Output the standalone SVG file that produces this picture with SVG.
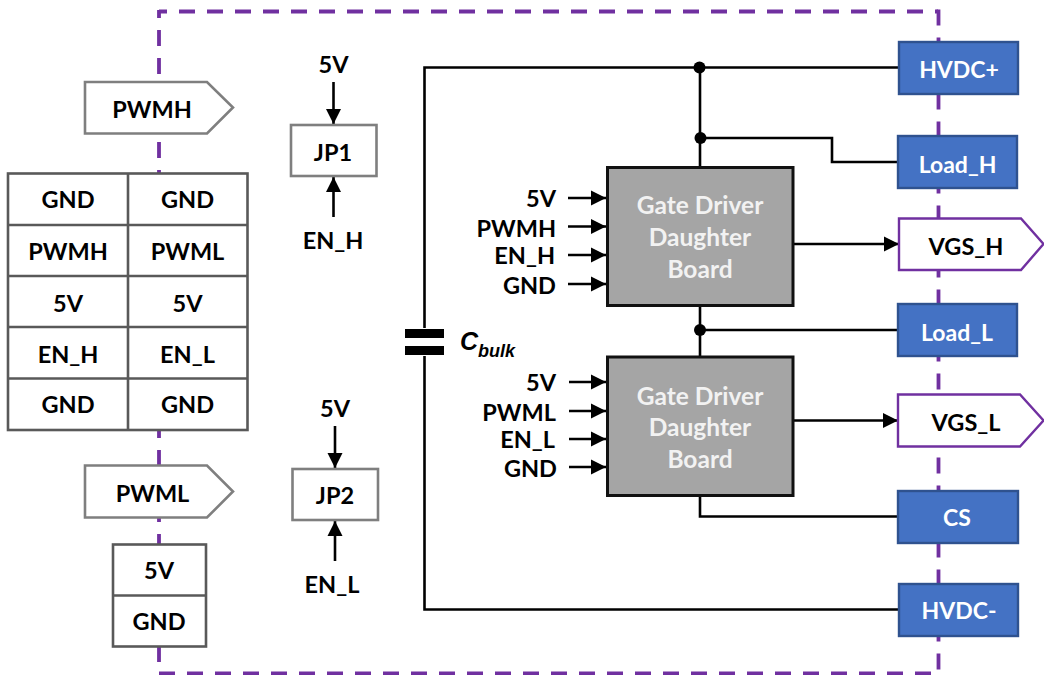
<svg xmlns="http://www.w3.org/2000/svg" width="1044" height="675" viewBox="0 0 1044 675">
<style>
text{font-family:Lato,"Open Sans","DejaVu Sans",sans-serif;font-weight:700;font-size:23.5px;fill:#000;text-anchor:middle;transform:translateY(1px)}
.e{text-anchor:end}
.w{fill:#fff;font-size:23px}
.g{fill:#f2f2f2;font-size:24.5px;transform:translateY(2px)}
.frame{fill:none;stroke:#7030a0;stroke-width:3.8;stroke-dasharray:16 12}
.wire{fill:none;stroke:#000;stroke-width:2.6}
.arrow{fill:none;stroke:#000;stroke-width:2.6;marker-end:url(#ah)}
.grey{fill:#fff;stroke:#7f7f7f;stroke-width:2.6}
.cell{fill:#fff;stroke:#595959;stroke-width:2.6}
.blue{fill:#4472c4;stroke:#2f528f;stroke-width:2.4}
.vgs{fill:#fff;stroke:#7030a0;stroke-width:2.4}
.gate{fill:#a5a5a5;stroke:#111;stroke-width:3}
.dot{fill:#000}
.cap{fill:#000}
.cb{font-family:"Liberation Sans",Arial,sans-serif;font-style:italic;text-anchor:start;transform:none}
</style>
<defs>
<marker id="ah" markerUnits="userSpaceOnUse" markerWidth="16" markerHeight="16" refX="15" refY="8" orient="auto"><path d="M0 0.5L15 8L0 15.5Z" fill="#000"/></marker>
</defs>
<g id="frame">
<path class="frame" d="M159 11.5H938" stroke-dashoffset="8"/>
<path class="frame" d="M159 10V674" stroke-dashoffset="8"/>
<path class="frame" d="M938.5 9.5V672" stroke-dasharray="16 12"/>
<path class="frame" d="M159 673.5H932"/>
</g>
<g id="connectors">
<path class="wire" d="M424.5 328V67.5H899"/>
<path class="wire" d="M424.5 356V609.5H899"/>
<path class="wire" d="M700 67.5V167"/>
<path class="wire" d="M700 138H832V162H898"/>
<path class="wire" d="M700 305V357"/>
<path class="wire" d="M700 330H898"/>
<path class="wire" d="M700 495V516.5H898"/>
<path class="arrow" d="M793 244H899"/>
<path class="arrow" d="M793 420.5H898"/>
<path class="arrow" d="M333.5 82V124"/>
<path class="arrow" d="M333.5 217V177"/>
<path class="arrow" d="M335 426V468"/>
<path class="arrow" d="M335 561V521"/>
<path class="arrow" d="M568 198H606"/>
<path class="arrow" d="M568 226.500H606"/>
<path class="arrow" d="M568 255H606"/>
<path class="arrow" d="M568 284H606"/>
<path class="arrow" d="M569 382H606"/>
<path class="arrow" d="M569 411H606"/>
<path class="arrow" d="M569 439H606"/>
<path class="arrow" d="M569 467H606"/>
<circle class="dot" cx="699.500" cy="67.500" r="6"/>
<circle class="dot" cx="700.500" cy="138" r="6"/>
<circle class="dot" cx="700" cy="330" r="6"/>
</g>
<g id="pwmh-tag"><path class="grey" d="M85 82H207L233 107.500L207 133.500H85Z"/><text x="152" y="117">PWMH</text></g>
<g id="pwml-tag"><path class="grey" d="M85 465.500H207L233 491.500L207 517.500H85Z"/><text x="152.500" y="501">PWML</text></g>
<g id="header-table">
<rect class="cell" x="8" y="173.500" width="239.500" height="256.500"/>
<path class="cell" d="M128 173.500V430M8 225H247.500M8 276H247.500M8 327H247.500M8 378.500H247.500"/>
<text x="68" y="207">GND</text><text x="187.500" y="207">GND</text>
<text x="68" y="259">PWMH</text><text x="187.500" y="259">PWML</text>
<text x="68" y="311">5V</text><text x="187.500" y="311">5V</text>
<text x="68" y="362">EN_H</text><text x="187.500" y="362">EN_L</text>
<text x="68" y="412">GND</text><text x="187.500" y="412">GND</text>
</g>
<g id="power-table">
<rect class="cell" x="113" y="544.500" width="93" height="102"/>
<path class="cell" d="M113 595.500H206"/>
<text x="159" y="578">5V</text><text x="159" y="629">GND</text>
</g>
<g id="jp1"><rect class="grey" x="291" y="125" width="85.500" height="51"/><text x="333" y="160">JP1</text></g>
<g id="jp2"><rect class="grey" x="292.500" y="469" width="85.500" height="51"/><text x="335" y="503">JP2</text></g>
<text x="333.500" y="72">5V</text>
<text x="333" y="248">EN_H</text>
<text x="335" y="416">5V</text>
<text x="332" y="592">EN_L</text>
<g id="cbulk">
<rect class="cap" x="405" y="329" width="39" height="9"/>
<rect class="cap" x="405" y="346" width="39" height="9"/>
<text class="cb" x="460" y="350" style="font-size:25px">C</text>
<text class="cb" x="478" y="356.500" style="font-size:18px">bulk</text>
</g>
<g id="gate-high">
<rect class="gate" x="607.500" y="167.500" width="185.500" height="138"/>
<text class="g" x="700" y="212">Gate Driver</text><text class="g" x="700" y="244">Daughter</text><text class="g" x="700" y="276">Board</text>
<text class="e" x="556" y="206">5V</text><text class="e" x="556" y="236">PWMH</text><text class="e" x="555" y="263">EN_H</text><text class="e" x="556" y="293">GND</text>
</g>
<g id="gate-low">
<rect class="gate" x="607.500" y="357" width="185.500" height="138.500"/>
<text class="g" x="700" y="403">Gate Driver</text><text class="g" x="700" y="434">Daughter</text><text class="g" x="700" y="466">Board</text>
<text class="e" x="556" y="390">5V</text><text class="e" x="556" y="420">PWML</text><text class="e" x="555" y="447">EN_L</text><text class="e" x="557" y="476">GND</text>
</g>
<g id="hvdc-plus"><rect class="blue" x="899" y="42" width="119" height="52"/><text class="w" x="959" y="77">HVDC+</text></g>
<g id="load-h"><rect class="blue" x="898" y="136" width="119" height="52"/><text class="w" x="957.500" y="172">Load_H</text></g>
<g id="vgs-h"><path class="vgs" d="M899 218.500H1021L1043.500 244L1021 270H899Z"/><text x="966" y="254">VGS_H</text></g>
<g id="load-l"><rect class="blue" x="898" y="304" width="119" height="52"/><text class="w" x="957" y="340">Load_L</text></g>
<g id="vgs-l"><path class="vgs" d="M898 394.500H1020L1043.500 420.500L1020 446.500H898Z"/><text x="966" y="430">VGS_L</text></g>
<g id="cs"><rect class="blue" x="898" y="491" width="120" height="52"/><text class="w" x="957" y="525">CS</text></g>
<g id="hvdc-minus"><rect class="blue" x="899" y="584" width="119" height="52"/><text class="w" x="959" y="618">HVDC-</text></g>
</svg>
